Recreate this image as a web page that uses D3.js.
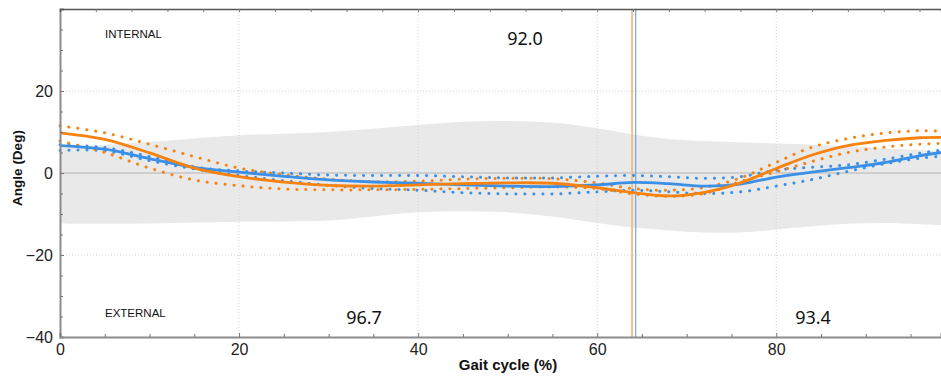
<!DOCTYPE html>
<html>
<head>
<meta charset="utf-8">
<script src="https://cdn.jsdelivr.net/npm/d3@7"></script>
<style>
  html, body { margin: 0; padding: 0; background: #fff; }
  svg { display: block; }
</style>
</head>
<body>
<svg id="chart" width="941" height="380"></svg>
<script>
// Gait cycle samples (%) shared by every curve
const gaitPct = [0, 5, 10, 15, 20, 25, 30, 35, 40, 45, 50, 55, 60, 64, 68, 72, 76, 80, 84, 88, 92, 96, 98.4];

// Normative band (degrees)
const normUpper = [6.0, 6.8, 7.6, 8.4, 9.2, 9.6, 10.0, 10.8, 11.7, 12.5, 12.7, 12.3, 10.9, 9.4, 8.3, 7.8, 7.5, 7.2, 6.9, 6.5, 6.0, 5.6, 5.3];
const normLower = [-12.3, -12.4, -12.3, -12.1, -11.9, -11.8, -11.6, -10.6, -9.6, -9.3, -9.6, -10.6, -12.2, -13.3, -14.0, -14.5, -14.5, -13.8, -13.0, -12.4, -12.2, -12.5, -12.7];

// Left side (orange)
const leftMean  = [9.8, 8.2, 4.9, 1.2, -0.9, -2.2, -3.0, -3.2, -2.9, -2.6, -2.4, -2.5, -3.6, -4.8, -5.6, -4.7, -2.4, 1.1, 4.4, 6.7, 7.9, 8.6, 8.7];
const leftUpper = [11.5, 9.8, 7.0, 4.0, 1.2, -0.4, -1.5, -2.1, -2.0, -1.5, -1.3, -1.4, -2.4, -3.8, -4.2, -3.5, -1.2, 2.6, 6.3, 8.4, 9.7, 10.3, 10.2];
const leftLower = [7.8, 5.0, 1.2, -1.7, -3.1, -3.9, -4.1, -4.1, -4.0, -3.8, -3.6, -3.4, -3.8, -5.1, -5.7, -5.0, -2.1, 0.3, 2.8, 5.0, 6.3, 7.0, 7.2];

// Right side (blue)
const rightMean  = [6.7, 5.8, 3.5, 1.4, 0.2, -0.8, -1.7, -2.2, -2.5, -2.9, -3.2, -3.3, -2.9, -2.3, -2.6, -3.2, -2.7, -1.0, 0.2, 1.3, 2.5, 4.2, 5.0];
const rightUpper = [6.9, 6.2, 4.0, 1.5, 0.5, 0.0, -0.5, -0.6, -0.6, -0.9, -1.2, -1.2, -0.8, -0.6, -0.9, -1.3, -0.9, 0.7, 1.4, 2.0, 3.3, 4.8, 5.6];
const rightLower = [5.5, 5.4, 3.0, 1.0, -0.6, -1.9, -3.0, -3.8, -4.2, -4.8, -5.1, -5.1, -4.6, -4.2, -4.6, -5.0, -4.6, -3.2, -1.6, 0.4, 2.2, 3.6, 4.1];

// Toe-off events (% of gait cycle)
const toeOffLeft = 63.9;
const toeOffRight = 64.3;

// Axis ticks
const xMajorTicks = [0, 20, 40, 60, 80];
const xMinorTicks = [5, 10, 15, 25, 30, 35, 45, 50, 55, 65, 70, 75, 85, 90, 95];
const xTopTicks = [4, 8, 12, 16, 20, 24, 28, 32, 36, 40, 44, 48, 52, 56, 60, 64, 68, 72, 76, 80, 84, 88, 92, 96];
const yMajorTicks = [-40, -20, 0, 20];
const yMinorTicks = [-35, -30, -25, -15, -10, -5, 5, 10, 15, 25, 30, 35];

// Annotations
const zoneLabels = ["INTERNAL", "EXTERNAL"];
const scoreLabels = ["92.0", "96.7", "93.4"];

const ORANGE = "#f7820f";
const BLUE = "#3a8fe6";

const svg = d3.select("#chart");
const plot = { left: 60, right: 941, top: 9, bottom: 337 };

const x = d3.scaleLinear().domain([0, 98.4]).range([plot.left, plot.right]);
const y = d3.scaleLinear().domain([-40, 40]).range([plot.bottom, plot.top]);

const rows = (vals) => gaitPct.map((g, i) => [g, vals[i]]);
const line = d3.line().x(d => x(d[0])).y(d => y(d[1])).curve(d3.curveCatmullRom);

// Normative band
const area = d3.area()
  .x((d, i) => x(gaitPct[i]))
  .y0((d, i) => y(normLower[i]))
  .y1((d, i) => y(normUpper[i]))
  .curve(d3.curveCatmullRom);
svg.append("path").datum(gaitPct).attr("d", area).attr("fill", "#e9e9e9");

// Dotted grid
const grid = svg.append("g");
grid.selectAll("line.gx").data([20, 40, 60, 80]).join("line")
  .attr("x1", d => x(d)).attr("x2", d => x(d))
  .attr("y1", plot.top).attr("y2", plot.bottom)
  .attr("stroke", "#d4d4d4").attr("stroke-width", 1).attr("stroke-dasharray", "1,2");
grid.selectAll("line.gy").data([20, -20]).join("line")
  .attr("x1", plot.left).attr("x2", plot.right)
  .attr("y1", d => y(d)).attr("y2", d => y(d))
  .attr("stroke", "#d4d4d4").attr("stroke-width", 1).attr("stroke-dasharray", "1,2");
// zero line
svg.append("line")
  .attr("x1", plot.left).attr("x2", plot.right)
  .attr("y1", y(0)).attr("y2", y(0))
  .attr("stroke", "#c4c4c4").attr("stroke-width", 1.3);

// Toe-off markers
svg.append("line")
  .attr("x1", x(toeOffLeft)).attr("x2", x(toeOffLeft))
  .attr("y1", plot.top).attr("y2", plot.bottom)
  .attr("stroke", "#efc08a").attr("stroke-width", 2);
svg.append("line")
  .attr("x1", x(toeOffRight)).attr("x2", x(toeOffRight))
  .attr("y1", plot.top).attr("y2", plot.bottom)
  .attr("stroke", "#6aa8ec").attr("stroke-width", 1.2);

// Curves
function drawDotted(vals, color) {
  svg.append("path").datum(rows(vals)).attr("d", line)
    .attr("fill", "none").attr("stroke", color)
    .attr("stroke-width", 3).attr("stroke-linecap", "round")
    .attr("stroke-dasharray", "0.1,8.9");
}
function drawMean(vals, color) {
  svg.append("path").datum(rows(vals)).attr("d", line)
    .attr("fill", "none").attr("stroke", color).attr("stroke-width", 2.8);
}
drawDotted(rightUpper, BLUE);
drawDotted(rightLower, BLUE);
drawDotted(leftUpper, ORANGE);
drawDotted(leftLower, ORANGE);
drawMean(rightMean, BLUE);
drawMean(leftMean, ORANGE);

// Axes
const axisFont = "'Liberation Sans', Arial, sans-serif";

const yAxis = svg.append("g").attr("transform", `translate(${plot.left},0)`)
  .call(d3.axisLeft(y).tickValues(yMajorTicks).tickFormat(d3.format("d")).tickSize(-4).tickPadding(7));
svg.append("g").attr("transform", `translate(${plot.left},0)`)
  .call(d3.axisLeft(y).tickValues(yMinorTicks).tickFormat("").tickSize(-3))
  .call(g => g.select(".domain").remove());

const xAxis = svg.append("g").attr("transform", `translate(0,${plot.bottom})`)
  .call(d3.axisBottom(x).tickValues(xMajorTicks).tickFormat(d3.format("d")).tickSize(-4).tickPadding(7));
svg.append("g").attr("transform", `translate(0,${plot.bottom})`)
  .call(d3.axisBottom(x).tickValues(xMinorTicks).tickFormat("").tickSize(-3))
  .call(g => g.select(".domain").remove());

const topAxis = svg.append("g").attr("transform", `translate(0,${plot.top})`)
  .call(d3.axisTop(x).tickValues(xTopTicks).tickFormat("").tickSize(-3));

[yAxis, xAxis].forEach(g => {
  g.select(".domain").attr("stroke", "#8c8c8c").attr("stroke-width", 2);
  g.selectAll("text").attr("font-family", axisFont).attr("font-size", 16).attr("fill", "#222");
});
svg.selectAll(".tick line").attr("stroke", "#777");
topAxis.select(".domain").attr("stroke", "#555").attr("stroke-width", 1.4);

// Axis titles
svg.append("text")
  .attr("transform", `translate(22,168) rotate(-90)`)
  .attr("text-anchor", "middle")
  .attr("font-family", axisFont).attr("font-weight", "bold").attr("font-size", 13.5)
  .attr("fill", "#111").text("Angle (Deg)");
svg.append("text")
  .attr("x", 508).attr("y", 370)
  .attr("text-anchor", "middle")
  .attr("font-family", axisFont).attr("font-weight", "bold").attr("font-size", 15)
  .attr("fill", "#111").text("Gait cycle (%)");

// Zone labels
svg.append("text").attr("x", 105).attr("y", 38)
  .attr("font-family", axisFont).attr("font-size", 11.5).attr("fill", "#111").text(zoneLabels[0]);
svg.append("text").attr("x", 105).attr("y", 317)
  .attr("font-family", axisFont).attr("font-size", 11.5).attr("fill", "#111").text(zoneLabels[1]);

// Score labels
const scoreFont = "'Noto Sans', 'Open Sans', sans-serif";
[[525, 45], [364, 324], [813, 324]].forEach((p, i) => {
  svg.append("text").attr("x", p[0]).attr("y", p[1])
    .attr("text-anchor", "middle")
    .attr("font-family", scoreFont).attr("font-size", 18).attr("fill", "#111")
    .text(scoreLabels[i]);
});
</script>
</body>
</html>
